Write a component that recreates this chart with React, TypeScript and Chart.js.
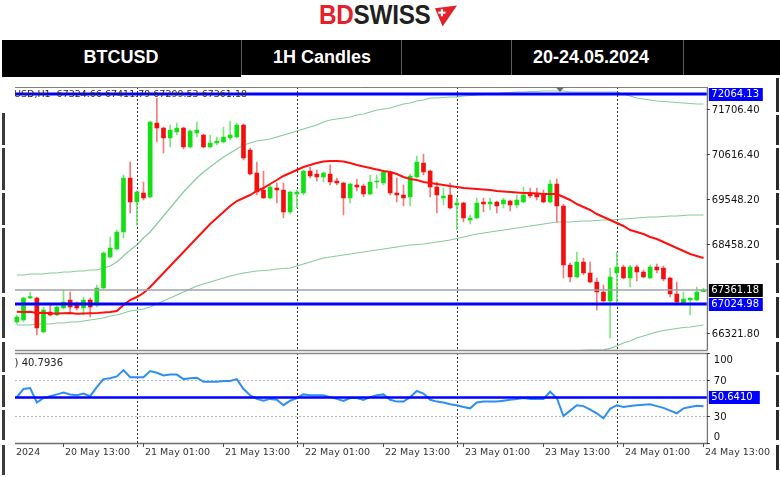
import React, { useEffect, useRef } from "react";
import { Chart, registerables } from "chart.js";

Chart.register(...registerables);

// ---------------- data ----------------
const START_DAY = 20;
const START_HOUR = 6;
const CANDLE_COUNT = 104;

const categories: string[] = (() => {
  const out: string[] = [];
  for (let i = 0; i < CANDLE_COUNT; i++) {
    const h = START_HOUR + i;
    const d = START_DAY + Math.floor(h / 24);
    const hh = h % 24;
    out.push(`${d} May ${String(hh).padStart(2, "0")}:00`);
  }
  return out;
})();

const opens = [
  66592, 66640, 67168, 67168, 66352, 66832, 66760, 66928, 67120, 67048,
  66928, 67120, 67000, 67408, 68152, 68344, 68752, 70048, 69472, 69688,
  69592, 71368, 71248, 71008, 71152, 71248, 70792, 71128, 71080, 70792,
  70888, 70912, 71008, 71032, 71320, 70720, 70168, 69760, 69568, 69808,
  69760, 69232, 69664, 69688, 70216, 70144, 70072, 70144, 69976, 69928,
  69568, 69880, 69856, 69664, 69952, 69928, 70192, 69688, 69640, 69592,
  70072, 70408, 70216, 69832, 69568, 69640, 69400, 69448, 69040, 69088,
  69472, 69424, 69472, 69424, 69496, 69400, 69472, 69664, 69664, 69664,
  69472, 69904, 69376, 67960, 67672, 68032, 67768, 67552, 67312, 67096,
  67768, 67912, 67648, 67912, 67792, 67648, 67912, 67888, 67648, 67264,
  67048, 67120, 67120, 67320,
];
const highs = [
  66760, 67192, 67312, 67192, 66952, 67048, 66976, 67360, 67312, 67072,
  67192, 67168, 67480, 68272, 68632, 68800, 70120, 70432, 69736, 69952,
  71416, 71968, 71272, 71320, 71368, 71272, 71200, 71392, 71104, 71080,
  71032, 71272, 71416, 71368, 71344, 70768, 70432, 70216, 69880, 69928,
  69928, 69736, 69760, 70240, 70312, 70240, 70192, 70360, 70048, 69952,
  69928, 70024, 69904, 70120, 70120, 70216, 70216, 70048, 69880, 70144,
  70576, 70624, 70240, 69952, 69808, 69928, 69568, 69472, 69160, 69568,
  69568, 69568, 69496, 69568, 69520, 69640, 69832, 69808, 69808, 69760,
  70000, 70024, 69424, 68008, 68272, 68128, 68032, 67648, 67480, 67888,
  68272, 67960, 67960, 67960, 67840, 67960, 67984, 67936, 67672, 67552,
  67312, 67168, 67432, 67408,
];
const lows = [
  66544, 66592, 67144, 66280, 66328, 66736, 66736, 66904, 66832, 66880,
  66760, 66712, 66952, 67384, 68128, 68320, 68608, 69208, 68920, 69520,
  69568, 70912, 70648, 70792, 71080, 70744, 70768, 71032, 70768, 70768,
  70840, 70888, 70960, 71008, 70480, 70120, 69640, 69556, 69544, 69448,
  69088, 69184, 69328, 69640, 70048, 69976, 69952, 69880, 69880, 69160,
  69448, 69736, 69592, 69640, 69808, 69880, 69640, 69472, 69376, 69376,
  70048, 70120, 69592, 69208, 69400, 69304, 68800, 68992, 68944, 69064,
  69232, 69280, 69208, 69328, 69256, 69328, 69448, 69568, 69520, 69448,
  69448, 68992, 67648, 67552, 67648, 67720, 67528, 66880, 67072, 66208,
  67000, 67624, 67432, 67576, 67648, 67624, 67768, 67576, 67192, 67000,
  67000, 66760, 67096, 67312,
];
const closes = [
  66712, 67168, 67204, 66448, 66880, 66760, 66952, 67072, 66952, 66928,
  67120, 66952, 67408, 68248, 68368, 68752, 70048, 69472, 69712, 69568,
  71392, 71248, 71008, 71200, 71248, 70792, 71176, 71200, 70792, 70888,
  70936, 71032, 71080, 71320, 70528, 70144, 69712, 69568, 69832, 69760,
  69232, 69712, 69712, 70216, 70096, 70072, 70168, 69952, 69928, 69568,
  69904, 69832, 69664, 69952, 69976, 70192, 69688, 69640, 69568, 70096,
  70432, 70192, 69832, 69640, 69616, 69328, 69448, 69088, 69088, 69448,
  69424, 69472, 69376, 69520, 69400, 69520, 69640, 69616, 69592, 69472,
  69904, 69376, 67960, 67672, 68032, 67768, 67552, 67312, 67096, 67672,
  67912, 67648, 67912, 67792, 67672, 67912, 67840, 67624, 67264, 67072,
  67144, 67168, 67312, 67361.18,
];
const movingAverage = [
  66840, 66830, 66835, 66810, 66815, 66800, 66795, 66800, 66805, 66790,
  66795, 66800, 66805, 66820, 66830, 66856, 67000, 67120, 67192, 67288,
  67432, 67600, 67768, 67936, 68104, 68272, 68440, 68608, 68776, 68944,
  69088, 69232, 69376, 69496, 69568, 69640, 69736, 69808, 69904, 70000,
  70096, 70168, 70240, 70312, 70360, 70408, 70444, 70456, 70456, 70444,
  70408, 70360, 70324, 70288, 70252, 70216, 70192, 70144, 70072, 70024,
  70000, 69952, 69928, 69904, 69880, 69856, 69832, 69808, 69796, 69784,
  69772, 69760, 69736, 69724, 69712, 69700, 69688, 69688, 69676, 69664,
  69664, 69664, 69592, 69520, 69424, 69352, 69280, 69184, 69112, 69040,
  68968, 68896, 68800, 68752, 68704, 68632, 68584, 68512, 68440, 68368,
  68296, 68224, 68176, 68128,
];
const bandUpper = [
  67720, 67720, 67744, 67744, 67744, 67768, 67768, 67792, 67792, 67816,
  67816, 67840, 67840, 67888, 67936, 68032, 68176, 68320, 68440, 68608,
  68752, 68944, 69136, 69328, 69520, 69712, 69880, 70048, 70192, 70312,
  70432, 70552, 70648, 70744, 70840, 70888, 70936, 70960, 70984, 71032,
  71080, 71128, 71176, 71224, 71272, 71320, 71392, 71440, 71464, 71488,
  71512, 71560, 71584, 71632, 71680, 71704, 71728, 71776, 71824, 71848,
  71896, 71920, 71968, 71968, 71980, 71992, 71992, 72016, 72028, 72040,
  72052, 72064, 72076, 72088, 72100, 72112, 72112, 72124, 72124, 72136,
  72136, 72136, 72136, 72112, 72112, 72112, 72112, 72112, 72112, 72112,
  72112, 72064, 72016, 71968, 71944, 71920, 71896, 71884, 71872, 71860,
  71848, 71836, 71824, 71824,
];
const bandMiddle = [
  66520, 66520, 66520, 66544, 66544, 66544, 66568, 66568, 66592, 66592,
  66616, 66640, 66664, 66688, 66736, 66760, 66808, 66856, 66880, 66904,
  66952, 67024, 67096, 67168, 67240, 67312, 67384, 67456, 67504, 67552,
  67600, 67648, 67696, 67732, 67768, 67792, 67816, 67828, 67840, 67864,
  67876, 67888, 67936, 67984, 68032, 68080, 68128, 68152, 68176, 68200,
  68224, 68248, 68272, 68296, 68320, 68344, 68368, 68392, 68416, 68440,
  68452, 68464, 68488, 68512, 68536, 68560, 68596, 68632, 68668, 68704,
  68728, 68752, 68776, 68800, 68824, 68848, 68872, 68896, 68920, 68944,
  68968, 68992, 68992, 68992, 69004, 69016, 69016, 69028, 69040, 69040,
  69052, 69064, 69076, 69088, 69100, 69112, 69112, 69124, 69136, 69136,
  69148, 69160, 69160, 69160,
];
const bandLower = [
  65320, 65320, 65330, 65340, 65344, 65350, 65360, 65370, 65392, 65410,
  65430, 65460, 65488, 65480, 65470, 65460, 65440, 65390, 65320, 65240,
  65152, 65100, 65050, 65000, 64960, 64920, 64880, 64840, 64816, 64790,
  64770, 64750, 64744, 64720, 64700, 64700, 64696, 64690, 64680, 64675,
  64672, 64700, 64730, 64760, 64792, 64820, 64850, 64870, 64888, 64910,
  64930, 64945, 64960, 64975, 64990, 65000, 65008, 65008, 65008, 65008,
  65008, 65030, 65050, 65070, 65092, 65140, 65200, 65250, 65308, 65350,
  65390, 65430, 65476, 65520, 65560, 65600, 65632, 65670, 65710, 65750,
  65800, 65830, 65860, 65880, 65900, 65910, 65915, 65920, 65925, 65960,
  66016, 66088, 66136, 66208, 66256, 66304, 66352, 66388, 66412, 66436,
  66460, 66472, 66496, 66520,
];
const rsiValues = [
  51, 60, 61, 45, 50, 52, 54, 56, 54, 53,
  55, 52, 62, 71, 72, 74, 81, 73, 73, 73,
  80, 78, 75, 76, 76, 71, 72, 72.6, 68, 68,
  68, 69, 69, 71, 60, 53, 49, 47, 49, 48,
  42, 47, 50, 54, 53, 53, 53, 51, 49, 46.7,
  50, 50, 47.8, 51, 53, 54, 48, 46, 46, 51,
  57.8, 55, 48, 46, 45, 43, 42, 40, 38.5, 45,
  46, 46, 46, 47, 48, 49, 50, 49, 49, 49,
  57, 50, 30, 36, 42, 41, 37, 33, 27.4, 38,
  42, 40, 41, 42, 42.5, 43, 41, 39, 36, 33,
  38.5, 40, 41.5, 40.7936,
];

const priceMin = 65920;
const priceMax = 72232;
const priceTicks = [71706.4, 70616.4, 69548.2, 68458.2, 66321.8];
const resistanceLevel = 72064.13;
const supportLevel = 67024.98;
const lastPrice = 67361.18;
const rsiTicks = [100, 70, 30, 0];
const rsiDotted = [70, 30];
const rsiMarker = 50.641;
const rsiLast = 40.7936;
const infoText = "BTCUSD,H1  67324.66 67411.79 67299.53 67361.18";
const xTickLabels = [
  "20 May 13:00", "21 May 01:00", "21 May 13:00", "22 May 01:00", "22 May 13:00",
  "23 May 01:00", "23 May 13:00", "24 May 01:00", "24 May 13:00",
];
const firstDateLabel = "2024";
const daySeparators = ["21 May 00:00", "22 May 00:00", "23 May 00:00", "24 May 00:00"];

// ---------------- styles ----------------
const FONT = '"DejaVu Sans", Verdana, Tahoma, sans-serif';
const GREEN = "#12e012";
const RED = "#f40f0f";
const GREEN_WICK = "#7be87b";
const RED_WICK = "#f57a7a";
const BAND = "rgba(60,170,100,0.62)";
const PAD = { left: 13.5, right: 73.2 };

function hLine(ctx: any, x1: number, x2: number, y: number, color: string, w: number, dash?: number[]) {
  ctx.save();
  ctx.beginPath();
  ctx.strokeStyle = color;
  ctx.lineWidth = w;
  if (dash) ctx.setLineDash(dash);
  ctx.moveTo(x1, y);
  ctx.lineTo(x2, y);
  ctx.stroke();
  ctx.restore();
}
function vLine(ctx: any, x: number, y1: number, y2: number, color: string, w: number, dash?: number[]) {
  ctx.save();
  ctx.beginPath();
  ctx.strokeStyle = color;
  ctx.lineWidth = w;
  if (dash) ctx.setLineDash(dash);
  ctx.moveTo(x, y1);
  ctx.lineTo(x, y2);
  ctx.stroke();
  ctx.restore();
}
function valueBox(ctx: any, x: number, y: number, w: number, text: string, bg: string) {
  ctx.save();
  ctx.fillStyle = bg;
  ctx.fillRect(x, Math.round(y) - 6, w, 13);
  ctx.fillStyle = "#ffffff";
  ctx.font = `10px ${FONT}`;
  ctx.textAlign = "left";
  ctx.textBaseline = "middle";
  ctx.fillText(text, x + 2.5, Math.round(y) + 0.5);
  ctx.restore();
}
function axisText(ctx: any, text: string, x: number, y: number) {
  ctx.save();
  ctx.fillStyle = "#111";
  ctx.font = `10px ${FONT}`;
  ctx.textAlign = "left";
  ctx.textBaseline = "middle";
  ctx.fillText(text, x, y);
  ctx.restore();
}
function drawSeparators(chart: any, extraBottom: number) {
  const { ctx, chartArea: a, scales } = chart;
  daySeparators.forEach((lbl) => {
    const idx = categories.indexOf(lbl);
    const px = Math.round(scales.x.getPixelForValue(idx)) + 0.5;
    vLine(ctx, px, a.top, a.bottom + extraBottom, "#2f2f2f", 1, [2, 2]);
  });
}

const mainDecor = {
  id: "mainDecor",
  beforeDatasetsDraw(chart: any) {
    drawSeparators(chart, 0);
  },
  afterDatasetsDraw(chart: any) {
    const { ctx, chartArea: a, scales } = chart;
    const ys = scales.y;
    const left = a.left + 1.5;
    hLine(ctx, left, a.right, ys.getPixelForValue(lastPrice), "#9ea3a9", 1.5);
    [resistanceLevel, supportLevel].forEach((v) =>
      hLine(ctx, left, a.right, ys.getPixelForValue(v), "#0000ff", 3)
    );
    // info text
    ctx.save();
    ctx.beginPath();
    ctx.rect(left, a.top, 400, 20);
    ctx.clip();
    ctx.font = `9.5px ${FONT}`;
    ctx.fillStyle = "#2a2a2a";
    ctx.textAlign = "right";
    ctx.textBaseline = "middle";
    ctx.fillText(infoText, 247, ys.getPixelForValue(resistanceLevel) + 1);
    ctx.restore();
    // frame
    hLine(ctx, left, a.right, a.top + 0.5, "#808080", 1);
    vLine(ctx, a.right + 0.5, a.top, a.bottom, "#505050", 1);
    hLine(ctx, left, a.right + 1, a.bottom + 0.5, "#8a8a8a", 1.5);
    // chart shift marker
    ctx.save();
    ctx.fillStyle = "#6a6a6a";
    ctx.beginPath();
    ctx.moveTo(556, a.top + 0.5);
    ctx.lineTo(564, a.top + 0.5);
    ctx.lineTo(560, a.top + 5);
    ctx.closePath();
    ctx.fill();
    ctx.restore();
    // right axis
    priceTicks.forEach((v) => {
      const py = Math.round(ys.getPixelForValue(v)) + 0.5;
      hLine(ctx, a.right, a.right + 3, py, "#333", 1);
      axisText(ctx, v.toFixed(2), a.right + 5, py + 1);
    });
    valueBox(ctx, a.right + 2, ys.getPixelForValue(resistanceLevel), 54, resistanceLevel.toFixed(2), "#0000ff");
    valueBox(ctx, a.right + 2, ys.getPixelForValue(lastPrice), 54, lastPrice.toFixed(2), "#000000");
    valueBox(ctx, a.right + 2, ys.getPixelForValue(supportLevel), 54, supportLevel.toFixed(2), "#0000ff");
  },
};

const rsiDecor = {
  id: "rsiDecor",
  beforeDatasetsDraw(chart: any) {
    const { ctx, chartArea: a, scales } = chart;
    const ys = scales.y;
    const left = a.left + 1.5;
    drawSeparators(chart, 4);
    rsiDotted.forEach((v) =>
      hLine(ctx, left, a.right, Math.round(ys.getPixelForValue(v)) + 0.5, "#b8b8b8", 1, [2, 2])
    );
  },
  afterDatasetsDraw(chart: any) {
    const { ctx, chartArea: a, scales } = chart;
    const ys = scales.y;
    const xs = scales.x;
    const left = a.left + 1.5;
    hLine(ctx, left, a.right, ys.getPixelForValue(rsiMarker), "#0000ff", 2.5);
    // frame
    hLine(ctx, left, a.right + 1, a.top + 0.5, "#8a8a8a", 1.5);
    vLine(ctx, a.right + 0.5, a.top, a.bottom, "#505050", 1);
    hLine(ctx, left, a.right + 1, a.bottom + 0.5, "#6e6e6e", 1.5);
    // title
    ctx.save();
    ctx.beginPath();
    ctx.rect(left - 1, a.top, 300, 20);
    ctx.clip();
    ctx.font = `10px ${FONT}`;
    ctx.fillStyle = "#222";
    ctx.textAlign = "right";
    ctx.textBaseline = "middle";
    ctx.fillText(`RSI(14) ${rsiLast.toFixed(4)}`, 63, a.top + 10);
    ctx.restore();
    // right labels
    rsiTicks.forEach((v) => {
      const py = Math.round(ys.getPixelForValue(v)) + 0.5;
      hLine(ctx, a.right, a.right + 3, py, "#333", 1);
      let ty = py + 1;
      if (v === 100) ty = py + 7;
      if (v === 0) ty = py - 6;
      axisText(ctx, String(v), a.right + 7, ty);
    });
    valueBox(ctx, a.right + 2, ys.getPixelForValue(rsiMarker), 51, rsiMarker.toFixed(4), "#0000ff");
    // x axis labels
    ctx.save();
    ctx.font = `9.5px ${FONT}`;
    ctx.fillStyle = "#333";
    ctx.textAlign = "left";
    ctx.textBaseline = "middle";
    ctx.fillText(firstDateLabel, a.left + 2.5, a.bottom + 10);
    xTickLabels.forEach((lbl) => {
      const idx = categories.indexOf(lbl);
      const px = Math.round(xs.getPixelForValue(idx)) + 0.5;
      vLine(ctx, px, a.bottom, a.bottom + 4, "#555", 1);
      ctx.fillText(lbl, px + 1.5, a.bottom + 10);
    });
    ctx.restore();
  },
};

function mainConfig(): any {
  const bodyColors = closes.map((c, i) => (c >= opens[i] ? GREEN : RED));
  const wickColors = closes.map((c, i) => (c >= opens[i] ? GREEN_WICK : RED_WICK));
  const line = (label: string, data: number[], color: string, width: number, order: number) => ({
    type: "line",
    label,
    data,
    borderColor: color,
    borderWidth: width,
    pointRadius: 0,
    tension: 0,
    fill: false,
    order,
  });
  return {
    type: "bar",
    data: {
      labels: categories,
      datasets: [
        line("Band upper", bandUpper, BAND, 1.2, 6),
        line("Band middle", bandMiddle, BAND, 1.2, 6),
        line("Band lower", bandLower, BAND, 1.2, 6),
        {
          type: "bar",
          label: "Wick",
          data: lows.map((l, i) => [l, highs[i]]),
          backgroundColor: wickColors,
          barThickness: 1,
          grouped: false,
          borderWidth: 0,
          order: 4,
        },
        {
          type: "bar",
          label: "Body",
          data: opens.map((o, i) => [o, closes[i]]),
          backgroundColor: bodyColors,
          barThickness: 4,
          minBarLength: 1,
          grouped: false,
          borderWidth: 0,
          order: 3,
        },
        line("MA", movingAverage, "#ff1010", 2, 1),
      ],
    },
    options: {
      animation: false,
      responsive: false,
      devicePixelRatio: 1,
      events: [],
      layout: { padding: { left: PAD.left, right: PAD.right, top: 87, bottom: 127 } },
      plugins: { legend: { display: false }, tooltip: { enabled: false }, title: { display: false } },
      scales: {
        x: { type: "category", offset: true, display: false, grid: { display: false } },
        y: { type: "linear", min: priceMin, max: priceMax, display: false },
      },
    },
    plugins: [mainDecor],
  };
}

function rsiConfig(): any {
  return {
    type: "line",
    data: {
      labels: categories,
      datasets: [
        {
          label: "RSI(14)",
          data: rsiValues,
          borderColor: "#2e8ff0",
          borderWidth: 2,
          pointRadius: 0,
          tension: 0,
          fill: false,
        },
      ],
    },
    options: {
      animation: false,
      responsive: false,
      devicePixelRatio: 1,
      events: [],
      layout: { padding: { left: PAD.left, right: PAD.right, top: 353, bottom: 34 } },
      plugins: { legend: { display: false }, tooltip: { enabled: false }, title: { display: false } },
      scales: {
        x: { type: "category", offset: true, display: false, grid: { display: false } },
        y: { type: "linear", min: 0, max: 100, display: false },
      },
    },
    plugins: [rsiDecor],
  };
}

const leftSegments = [
  [113, 145], [148, 190], [193, 225], [228, 293], [297, 338], [342, 372], [375, 407], [410, 440], [445, 475],
];
const rightSegments = [
  [78, 112], [115, 145], [148, 190], [193, 225], [228, 260], [263, 293], [297, 338], [342, 372], [375, 407], [410, 440], [445, 470],
];
const headerCells = [
  { text: "BTCUSD", center: 121 },
  { text: "1H Candles", center: 322 },
  { text: "20-24.05.2024", center: 591 },
];
const headerSeparators = [241, 401, 511, 683];

export default function App() {
  const mainRef = useRef<HTMLCanvasElement>(null);
  const rsiRef = useRef<HTMLCanvasElement>(null);

  useEffect(() => {
    const main = new Chart(mainRef.current as HTMLCanvasElement, mainConfig());
    const rsi = new Chart(rsiRef.current as HTMLCanvasElement, rsiConfig());
    return () => {
      main.destroy();
      rsi.destroy();
    };
  }, []);

  return (
    <div
      style={{
        position: "absolute",
        left: 0,
        top: 0,
        width: 780,
        height: 477,
        background: "#ffffff",
        overflow: "hidden",
      }}
    >
      {/* logo */}
      <div
        style={{
          position: "absolute",
          left: 319,
          top: 2,
          height: 27,
          lineHeight: "27px",
          fontFamily: '"Liberation Sans", Arial, sans-serif',
          fontWeight: 700,
          fontSize: 27,
          transform: "scaleX(0.9)",
          transformOrigin: "left top",
          whiteSpace: "nowrap",
          letterSpacing: -0.3,
        }}
      >
        <span style={{ color: "#e3212b" }}>BD</span>
        <span style={{ color: "#231f20" }}>SWISS</span>
      </div>
      <svg style={{ position: "absolute", left: 434, top: 5 }} width={23} height={22} viewBox="0 0 24 22">
        <polygon points="1,3 24,0 9,22" fill="#e3212b" />
        <rect x="4.5" y="6.4" width="7.5" height="2.2" fill="#ffffff" />
        <rect x="7.15" y="3.8" width="2.2" height="7.5" fill="#ffffff" />
      </svg>

      {/* header bar */}
      <div style={{ position: "absolute", left: 2, top: 40, width: 778, height: 35, background: "#000" }} />
      <div style={{ position: "absolute", left: 2, top: 40, width: 239, height: 37, background: "#000" }} />
      {headerSeparators.map((x) => (
        <div key={x} style={{ position: "absolute", left: x, top: 40, width: 1, height: 35, background: "#5e5e5e" }} />
      ))}
      {headerCells.map((c) => (
        <div
          key={c.text}
          style={{
            position: "absolute",
            left: c.center - 100,
            width: 200,
            top: 40,
            height: 35,
            lineHeight: "35px",
            textAlign: "center",
            color: "#ffffff",
            fontFamily: '"Liberation Sans", Arial, sans-serif',
            fontWeight: 700,
            fontSize: 18,
            whiteSpace: "nowrap",
          }}
        >
          {c.text}
        </div>
      ))}

      {/* outer frame pieces */}
      {leftSegments.map(([a, b]) => (
        <div key={"l" + a} style={{ position: "absolute", left: 2, top: a, width: 2.5, height: b - a, background: "#3a3a3a" }} />
      ))}
      {rightSegments.map(([a, b]) => (
        <div key={"r" + a} style={{ position: "absolute", left: 776, top: a, width: 2.5, height: b - a, background: "#2a2a2a" }} />
      ))}

      <canvas ref={mainRef} width={780} height={477} style={{ position: "absolute", left: 0, top: 0 }} />
      <canvas ref={rsiRef} width={780} height={477} style={{ position: "absolute", left: 0, top: 0 }} />
    </div>
  );
}
